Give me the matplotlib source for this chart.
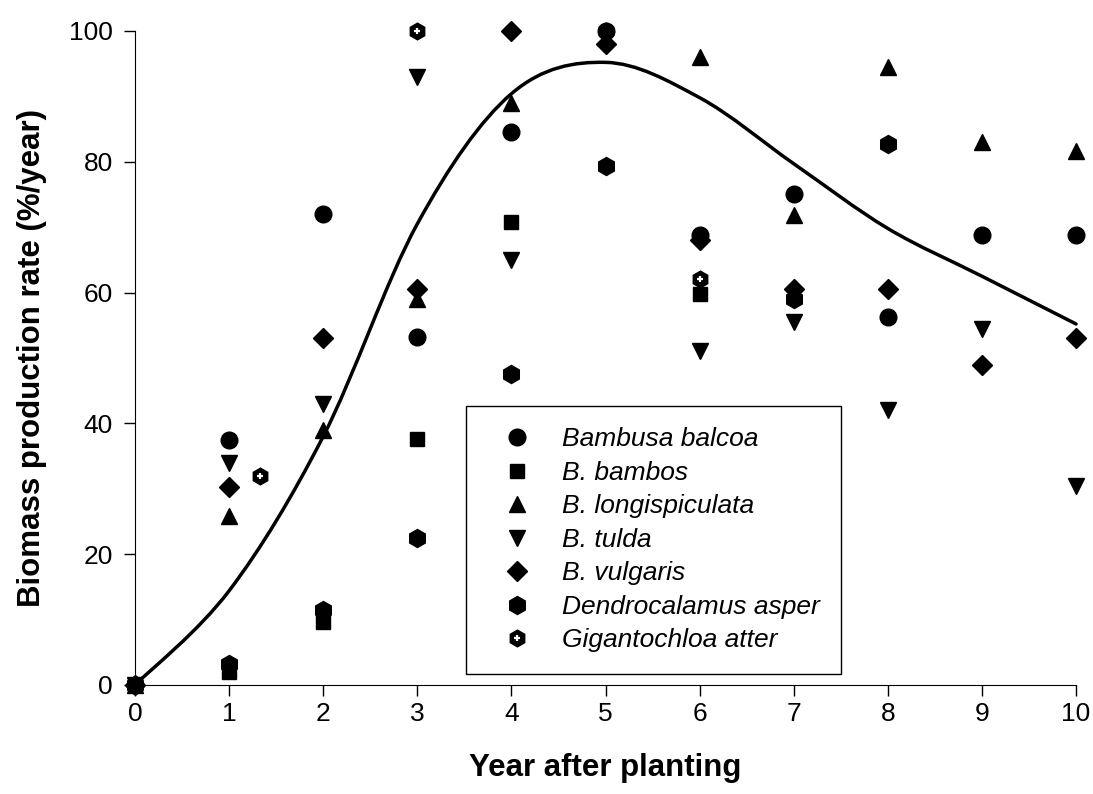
import matplotlib
matplotlib.use('Agg')
import matplotlib.pyplot as plt
from matplotlib.path import Path
from matplotlib.patches import PathPatch
import numpy as np

plt.rcParams['font.family'] = ['Liberation Sans', 'DejaVu Sans']

# Datos (tasa de produccion de biomasa, %/año)
balcoa_x = [0, 1, 2, 3, 4, 5, 6, 7, 8, 9, 10]
balcoa_y = [0, 37.5, 72, 53.2, 84.5, 100, 68.8, 75, 56.3, 68.8, 68.8]
bambos_x = [0, 1, 2, 3, 4, 6]
bambos_y = [0, 2.0, 9.6, 37.6, 70.8, 59.8]
longi_x = [0, 1, 2, 3, 4, 6, 7, 8, 9, 10]
longi_y = [0, 25.8, 39, 59, 89, 96, 71.8, 94.5, 83, 81.7]
tulda_x = [0, 1, 2, 3, 4, 6, 7, 8, 9, 10]
tulda_y = [0, 34, 43, 93, 65, 51, 55.5, 42, 54.5, 30.5]
vulgaris_x = [0, 1, 2, 3, 4, 5, 6, 7, 8, 9, 10]
vulgaris_y = [0, 30.2, 53, 60.5, 100, 98, 68, 60.5, 60.5, 49, 53]
dendro_x = [0, 1, 2, 3, 4, 5, 7, 8]
dendro_y = [0, 3.2, 11.5, 22.5, 47.5, 79.4, 59, 82.7]
giganto_x = [0, 1.33, 3, 5, 6]
giganto_y = [0, 32, 100, 100, 62]

curve_x = [0, 1, 2, 3, 4, 5, 6, 7, 8, 9, 10]
curve_y = [0, 14.4, 38, 70.5, 90.4, 95.2, 89.8, 79.7, 69.8, 62.5, 55.2]

labels = ['Bambusa balcoa', 'B. bambos', 'B. longispiculata', 'B. tulda',
          'B. vulgaris', 'Dendrocalamus asper', 'Gigantochloa atter']

fig = plt.figure(figsize=(10.93, 7.94), dpi=100)
ax = fig.add_axes([0.1235, 0.1373, 0.861, 0.8237])

# linea suavizada: bezier cubica por los puntos (Catmull-Rom, como el "smoothed line" de Excel)
pts = np.column_stack([curve_x, curve_y]).astype(float)
verts = [pts[0]]
codes = [Path.MOVETO]
n = len(pts)
for i in range(n - 1):
    p0 = pts[max(i - 1, 0)]
    p1 = pts[i]
    p2 = pts[i + 1]
    p3 = pts[min(i + 2, n - 1)]
    verts += [p1 + (p2 - p0) / 6, p2 - (p3 - p1) / 6, p2]
    codes += [Path.CURVE4] * 3
ax.add_patch(PathPatch(Path(verts, codes), fill=False, edgecolor='k', lw=2.5,
                       zorder=2, clip_on=False, capstyle='round'))

kw = dict(ls='none', color='k', clip_on=False, zorder=3)
h1, = ax.plot(balcoa_x, balcoa_y, marker='o', ms=12, **kw)
h2, = ax.plot(bambos_x, bambos_y, marker='s', ms=10, **kw)
h3, = ax.plot(longi_x, longi_y, marker='^', ms=12, **kw)
h4, = ax.plot(tulda_x, tulda_y, marker='v', ms=12, **kw)
h5, = ax.plot(vulgaris_x, vulgaris_y, marker='D', ms=10, **kw)
h6, = ax.plot(dendro_x, dendro_y, marker='h', ms=13, **kw)
h7a, = ax.plot(giganto_x, giganto_y, marker='h', ms=12, ls='none', color='k',
               clip_on=False, zorder=2.5)
h7b, = ax.plot(giganto_x, giganto_y, marker='+', ms=5, mew=1.6, ls='none', color='w',
               clip_on=False, zorder=2.6)

ax.set_xlim(0, 10)
ax.set_ylim(0, 100)
ax.set_xticks(range(0, 11))
ax.set_yticks(range(0, 101, 20))
ax.spines['top'].set_visible(False)
ax.spines['right'].set_visible(False)
ax.tick_params(axis='both', direction='out', length=8, width=1, labelsize=19)
ax.tick_params(axis='x', pad=4)
ax.tick_params(axis='y', pad=8)

ax.set_xlabel('Year after planting', fontsize=22.5, fontweight='bold', labelpad=20)
ax.set_ylabel('Biomass production rate (%/year)', fontsize=22.5, fontweight='bold', labelpad=16)

leg = ax.legend([h1, h2, h3, h4, h5, h6, (h7a, h7b)], labels,
                loc='lower left', bbox_to_anchor=(0.352, 0.0168), borderaxespad=0,
                prop={'style': 'italic', 'size': 19}, frameon=True, fancybox=False,
                edgecolor='k', framealpha=1, numpoints=1, handlelength=2.17,
                handletextpad=0.62, borderpad=0.82, labelspacing=0.36)
leg.get_frame().set_linewidth(1)

fig.savefig('out.png', dpi=100)
